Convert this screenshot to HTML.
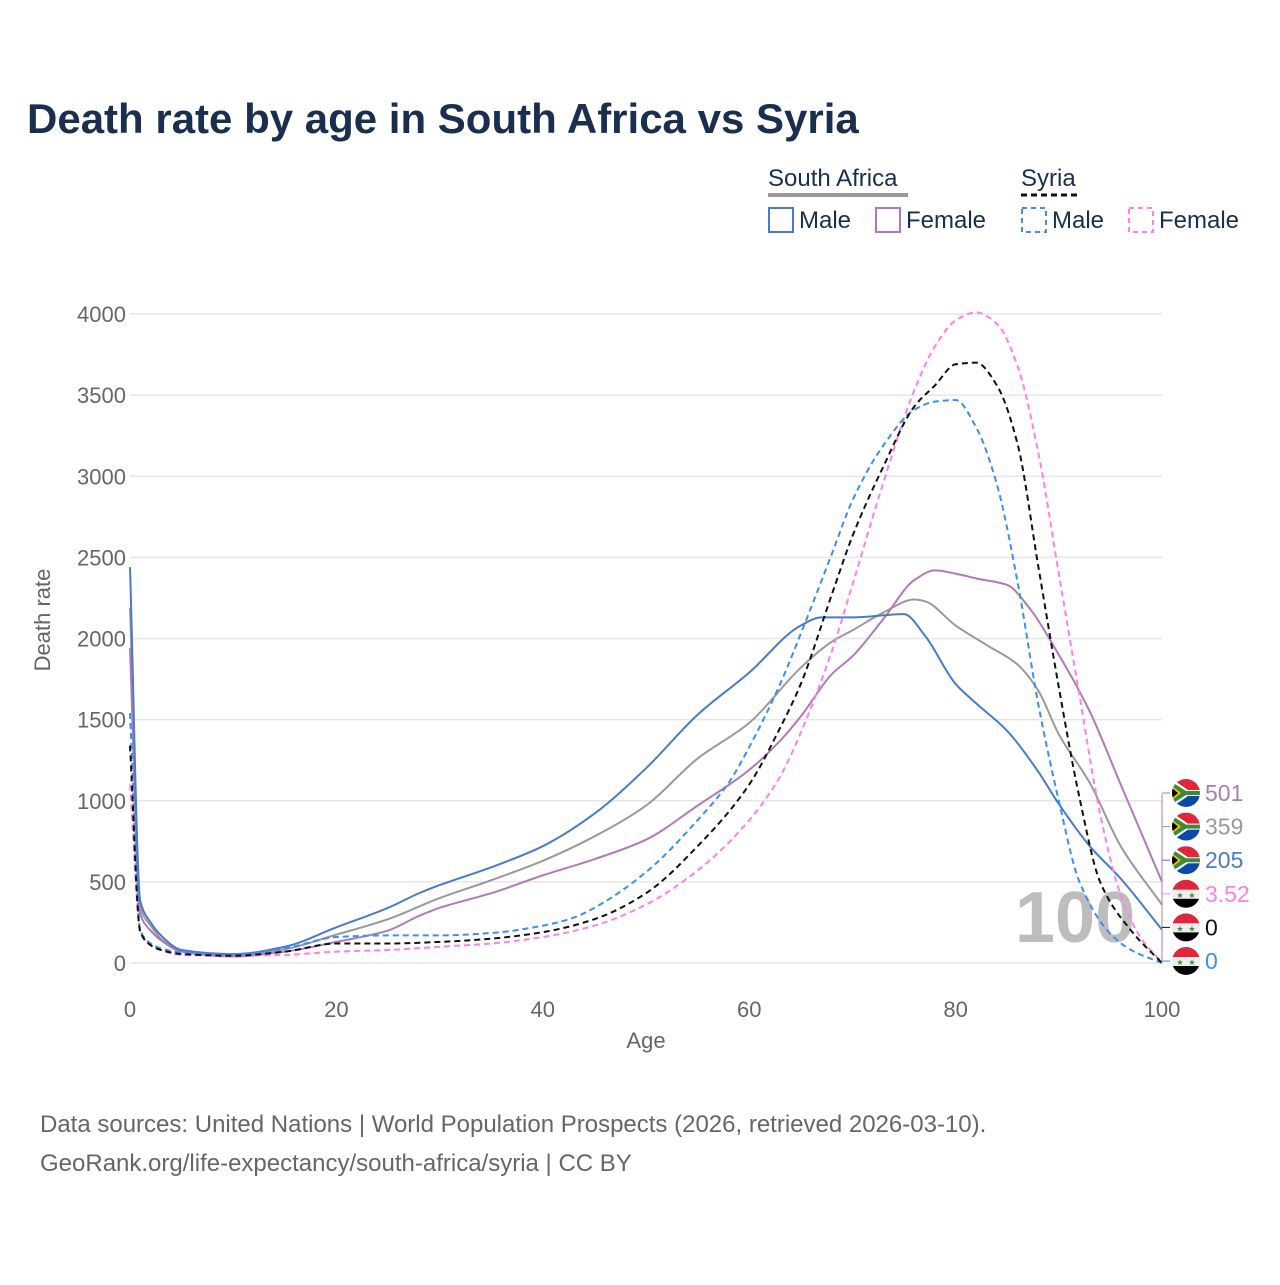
<!DOCTYPE html>
<html><head><meta charset="utf-8"><style>
body{margin:0;background:#fff;font-family:"Liberation Sans",sans-serif}
</style></head><body>
<svg width="1280" height="1280" viewBox="0 0 1280 1280" xmlns="http://www.w3.org/2000/svg" font-family="Liberation Sans, sans-serif">
<defs>
<clipPath id="fc"><circle cx="0" cy="0" r="14"/></clipPath>
<clipPath id="plot"><rect x="125" y="290" width="1045" height="690"/></clipPath>
</defs>
<text x="27" y="133" font-size="42" font-weight="bold" fill="#1a2e4f">Death rate by age in South Africa vs Syria</text>
<g>
<text x="768" y="186" font-size="24" fill="#1a2e4f">South Africa</text>
<line x1="768" y1="195" x2="908" y2="195" stroke="#999" stroke-width="4"/>
<text x="1021" y="186" font-size="24" fill="#1a2e4f">Syria</text>
<line x1="1021" y1="195" x2="1078" y2="195" stroke="#111" stroke-width="3" stroke-dasharray="6,4"/>
<g><rect x="769" y="208" width="24" height="24" fill="none" stroke="#4a7bc8" stroke-width="2"/><text x="799" y="228" font-size="24" fill="#1a2e4f">Male</text></g>
<g><rect x="876" y="208" width="24" height="24" fill="none" stroke="#b07ab8" stroke-width="2"/><text x="906" y="228" font-size="24" fill="#1a2e4f">Female</text></g>
<g><rect x="1022" y="208" width="24" height="24" fill="none" stroke="#3d8ef0" stroke-width="2" stroke-dasharray="5,4"/><text x="1052" y="228" font-size="24" fill="#1a2e4f">Male</text></g>
<g><rect x="1129" y="208" width="24" height="24" fill="none" stroke="#ff80e6" stroke-width="2" stroke-dasharray="5,4"/><text x="1159" y="228" font-size="24" fill="#1a2e4f">Female</text></g>
</g>
<g id="grid"></g>
<text x="1015" y="942" font-size="72" font-weight="bold" fill="#bdbdbd">100</text>
<g id="series" clip-path="url(#plot)"></g>
<g id="ends"></g>
<text x="646" y="1048" font-size="22" fill="#666" text-anchor="middle">Age</text>
<text transform="translate(50,620) rotate(-90)" font-size="22" fill="#666" text-anchor="middle">Death rate</text>
<text x="40" y="1132" font-size="24" fill="#666">Data sources: United Nations | World Population Prospects (2026, retrieved 2026-03-10).</text>
<text x="40" y="1171" font-size="24" fill="#666">GeoRank.org/life-expectancy/south-africa/syria | CC BY</text>
</svg>
<script>
const yTicks=[0,500,1000,1500,2000,2500,3000,3500,4000];
const xTicks=[0,20,40,60,80,100];
const ages_saMale=[0,1,2,3,5,10,15,20,25,28,30,35,40,45,50,55,60,65,67,70,75,77,80,82,85,88,90,93,96,100];
const saMale=[2440,380,250,170,80,55,100,220,340,430,480,590,720,920,1200,1530,1790,2080,2130,2130,2150,2020,1720,1600,1430,1180,980,720,520,205];
const ages_saFemale=[0,1,2,3,5,10,15,20,25,28,30,35,40,45,50,55,60,63,65,68,70,73,76,78,80,82,85,87,90,93,96,100];
const saFemale=[1940,300,200,140,70,40,70,130,200,290,340,430,540,640,760,970,1190,1370,1520,1780,1890,2120,2360,2420,2400,2370,2330,2200,1900,1550,1100,501];
const ages_saTotal=[0,1,2,3,5,10,15,20,25,30,35,40,45,50,55,60,65,68,70,73,76,77,80,83,86,88,90,93,96,100];
const saTotal=[2190,340,230,150,75,48,85,175,270,400,510,630,780,970,1260,1480,1820,1980,2050,2160,2240,2230,2080,1960,1840,1680,1410,1110,720,359];
const ages_syMale=[0,1,2,3,5,10,15,20,25,30,35,40,43,45,50,55,58,60,63,65,68,70,73,76,78,80,82,84,86,88,90,92,95,97,100];
const syMale=[1540,200,120,90,65,55,90,160,170,170,185,230,280,340,560,880,1110,1330,1720,2030,2520,2850,3190,3410,3460,3470,3300,2950,2350,1600,1000,500,180,80,0];
const ages_syTotal=[0,1,2,3,5,10,15,20,25,30,35,40,45,50,55,60,63,65,68,70,73,76,78,80,82,84,86,88,90,92,94,97,100];
const syTotal=[1340,190,110,80,55,45,70,120,120,130,150,190,270,430,720,1100,1450,1720,2270,2630,3060,3430,3560,3690,3700,3560,3200,2450,1700,1020,500,200,0];
const ages_syFemale=[0,1,2,3,5,10,15,20,25,30,35,40,45,50,55,60,63,65,68,70,73,76,78,80,82,84,86,88,90,92,94,96,98,100];
const syFemale=[1100,200,110,80,50,45,50,70,80,100,120,160,230,360,570,880,1150,1420,1920,2330,2960,3530,3800,3960,4010,3940,3680,3150,2400,1650,920,420,150,3.52];
const endLabels=["501","359","205","3.52","0","0"];
const X=a=>130+a*10.32, Y=v=>963-v*0.16225;
const NS="http://www.w3.org/2000/svg";
function mk(t,attrs,parent){const e=document.createElementNS(NS,t);for(const k in attrs)e.setAttribute(k,attrs[k]);parent.appendChild(e);return e;}
const grid=document.getElementById('grid');
yTicks.forEach(v=>{
 const l=mk('line',{x1:130,x2:1162,y1:Y(v),y2:Y(v),stroke:'#e6e6e6','stroke-width':1.5},grid);
 
 
 const t=mk('text',{x:126,y:Y(v)+8,'font-size':22,fill:'#666','text-anchor':'end'},grid);t.textContent=v;
 
 
});
xTicks.forEach(a=>{
 const t=mk('text',{x:X(a),y:1017,'font-size':22,fill:'#666','text-anchor':'middle'},grid);t.textContent=a;
 
 
});
function path(ax,vs){
 const p=ax.map((a,i)=>[X(a),Y(vs[i])]);
 const n=p.length, d=[], m=new Array(n);
 for(let i=0;i<n-1;i++)d.push((p[i+1][1]-p[i][1])/(p[i+1][0]-p[i][0]));
 m[0]=d[0];m[n-1]=d[n-2];
 for(let i=1;i<n-1;i++){
  if(d[i-1]*d[i]<=0)m[i]=0;
  else{const h0=p[i][0]-p[i-1][0],h1=p[i+1][0]-p[i][0];const w1=2*h1+h0,w2=h1+2*h0;m[i]=(w1+w2)/(w1/d[i-1]+w2/d[i]);}
 }
 let s=`M${p[0][0]},${p[0][1]}`;
 for(let i=0;i<n-1;i++){
  const h=(p[i+1][0]-p[i][0])/3;
  s+=` C${p[i][0]+h},${p[i][1]+m[i]*h} ${p[i+1][0]-h},${p[i+1][1]-m[i+1]*h} ${p[i+1][0]},${p[i+1][1]}`;
 }
 return s;
}
const S=document.getElementById('series');
const defs=[
 [ages_saTotal,saTotal,'#9a9a9a',null,'line-south-africa-total'],
 [ages_saFemale,saFemale,'#b07ab8',null,'line-south-africa-female'],
 [ages_saMale,saMale,'#4a7bc8',null,'line-south-africa-male'],
 [ages_syFemale,syFemale,'#ff80e6','6,4','line-syria-female'],
 [ages_syMale,syMale,'#3d8ef0','6,4','line-syria-male'],
 [ages_syTotal,syTotal,'#111','6,4','line-syria-total']];
defs.forEach(d=>{
 const e=mk('path',{d:path(d[0],d[1]),fill:'none',stroke:d[2],'stroke-width':2},S);
 if(d[3])e.setAttribute('stroke-dasharray',d[3]);
 
 
});
const E=document.getElementById('ends');
const endColors=['#b07ab8','#9a9a9a','#4a7bc8','#ff80e6','#111','#3d8ef0'];
const isSA=[1,1,1,0,0,0];
mk('line',{x1:1162,x2:1162,y1:794,y2:963,stroke:'#b07ab8','stroke-width':1},E);
endLabels.forEach((lab,i)=>{
 const ly=793+i*33.6;
 mk('line',{x1:1162,x2:1170,y1:ly,y2:ly,stroke:endColors[i],'stroke-width':1},E);
 const g=mk('g',{transform:`translate(1186,${ly})`},E);
 
 
 const c=mk('g',{'clip-path':'url(#fc)'},g);
 if(isSA[i]){
  mk('rect',{x:-14,y:-14,width:28,height:14,fill:'#e0263a'},c);
  mk('rect',{x:-14,y:0,width:28,height:14,fill:'#0b4aa8'},c);
  mk('path',{d:'M-14,-14 L2,-3 L14,-3 L14,3 L2,3 L-14,14 Z',fill:'#fff'},c);
  mk('path',{d:'M-14,-11 L0,-2 L14,-2 L14,2 L0,2 L-14,11 Z',fill:'#3a8a3a'},c);
  mk('path',{d:'M-14,-7 L-5,0 L-14,7 Z',fill:'#f4c20d'},c);
  mk('path',{d:'M-14,-5 L-8,0 L-14,5 Z',fill:'#000'},c);
 }else{
  mk('rect',{x:-14,y:-14,width:28,height:10,fill:'#e0263a'},c);
  mk('rect',{x:-14,y:-4,width:28,height:9,fill:'#eee'},c);
  mk('rect',{x:-14,y:5,width:28,height:10,fill:'#000'},c);
  mk('text',{x:-6,y:4,'font-size':8,fill:'#3a8a3a','text-anchor':'middle'},c).textContent='★';
  mk('text',{x:6,y:4,'font-size':8,fill:'#3a8a3a','text-anchor':'middle'},c).textContent='★';
 }
 const t=mk('text',{x:1205,y:ly+8,'font-size':23,fill:endColors[i]},E);
 t.textContent=lab;
 
 
});
</script>
</body></html>
